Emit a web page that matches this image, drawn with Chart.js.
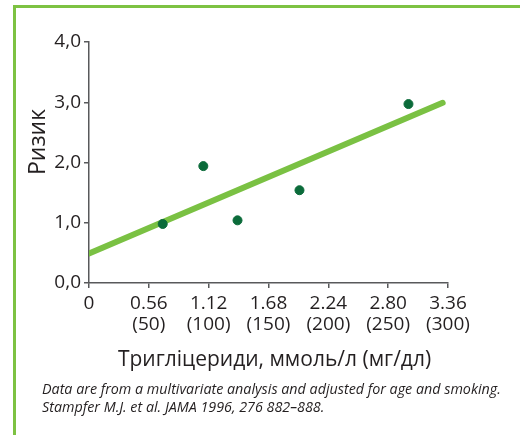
<!DOCTYPE html>
<html>
<head>
<meta charset="utf-8">
<script src="https://cdn.jsdelivr.net/npm/chart.js@4"></script>
<style>
  html, body { margin:0; padding:0; background:#fff; }
  #wrap { position:relative; width:520px; height:435px; overflow:hidden; }
  #frame { position:absolute; left:13px; top:5px; width:700px; height:700px;
           border-left:3px solid #7dc242; border-top:3px solid #7dc242; box-sizing:border-box; }
  canvas { position:absolute; left:0; top:0; }
  #cap { position:absolute; left:42px; top:380px; font-family:"Open Sans", sans-serif;
         font-style:italic; font-size:14.3px; line-height:18px; color:#231f20; white-space:nowrap; }
</style>
</head>
<body>
<div id="wrap">
  <div id="frame"></div>
  <canvas id="c" width="520" height="435"></canvas>
  <div id="cap">Data are from a multivariate analysis and adjusted for age and smoking.<br>Stampfer M.J. et al. JAMA 1996, 276 882–888.</div>
</div>
<script>
// Data
const pointX = [0.69, 1.07, 1.39, 1.97, 2.99];
const pointY = [0.98, 1.94, 1.04, 1.54, 2.97];
const trendX = [0, 3.31];
const trendY = [0.49, 2.99];
const xTickValues = [0, 0.56, 1.12, 1.68, 2.24, 2.80, 3.36];
const xTickMmol = ['0', '0.56', '1.12', '1.68', '2.24', '2.80', '3.36'];
const xTickMg = ['', '(50)', '(100)', '(150)', '(200)', '(250)', '(300)'];
const yTickValues = [0, 1, 2, 3, 4];
const yTickLabels = ['0,0', '1,0', '2,0', '3,0', '4,0'];
const xTitle = 'Тригліцериди, ммоль/л (мг/дл)';
const yTitle = 'Ризик';

const FONT = '"Open Sans", sans-serif';
const TXT = '#231f20';
const AX = '#58595b';

const titlesPlugin = {
  id: 'titles',
  afterDraw(chart) {
    const ctx = chart.ctx;
    const ca = chart.chartArea;
    ctx.save();
    ctx.fillStyle = TXT;
    ctx.font = '21px ' + FONT;
    ctx.textAlign = 'center';
    ctx.textBaseline = 'middle';
    ctx.fillText(xTitle, (ca.left + ca.right) / 2 + 6, 360);
    ctx.translate(38, 142);
    ctx.rotate(-Math.PI / 2);
    ctx.font = '23px ' + FONT;
    ctx.fillText(yTitle, 0, 0);
    ctx.restore();
  }
};

new Chart(document.getElementById('c'), {
  type: 'scatter',
  data: {
    datasets: [
      {
        type: 'scatter',
        data: pointX.map((x, i) => ({ x, y: pointY[i] })),
        backgroundColor: '#0b6b3a',
        borderColor: '#0b6b3a',
        pointRadius: 4.5,
        pointHoverRadius: 4.5,
        order: 0
      },
      {
        type: 'line',
        data: trendX.map((x, i) => ({ x, y: trendY[i] })),
        borderColor: '#7ac143',
        borderWidth: 6,
        borderCapStyle: 'round',
        pointRadius: 0,
        fill: false,
        order: 1
      }
    ]
  },
  options: {
    responsive: false,
    animation: false,
    devicePixelRatio: 1,
    layout: { padding: { left: 0, top: 42, right: 72, bottom: 0 } },
    plugins: { legend: { display: false }, tooltip: { enabled: false } },
    scales: {
      x: {
        type: 'linear',
        min: 0, max: 3.36,
        afterBuildTicks: s => { s.ticks = xTickValues.map(v => ({ value: v })); },
        afterFit: s => { s.height = 152; },
        ticks: {
          autoSkip: false,
          maxRotation: 0,
          padding: 5,
          color: TXT,
          font: { family: FONT, size: 19, lineHeight: 1.12 },
          callback: (v, i) => xTickMg[i] ? [xTickMmol[i], xTickMg[i]] : xTickMmol[i]
        },
        grid: { display: true, drawOnChartArea: false, drawTicks: true, tickLength: 5, color: AX, lineWidth: 1.5 },
        border: { display: true, color: AX, width: 1.5 }
      },
      y: {
        type: 'linear',
        min: 0, max: 4,
        afterBuildTicks: s => { s.ticks = yTickValues.map(v => ({ value: v })); },
        afterFit: s => { s.width = 89; },
        ticks: {
          padding: 3,
          color: TXT,
          font: { family: FONT, size: 19 },
          callback: (v, i) => yTickLabels[i]
        },
        grid: { display: true, drawOnChartArea: false, drawTicks: true, tickLength: 5, color: AX, lineWidth: 1.5 },
        border: { display: true, color: AX, width: 1.5 }
      }
    }
  },
  plugins: [titlesPlugin]
});
</script>
</body>
</html>
